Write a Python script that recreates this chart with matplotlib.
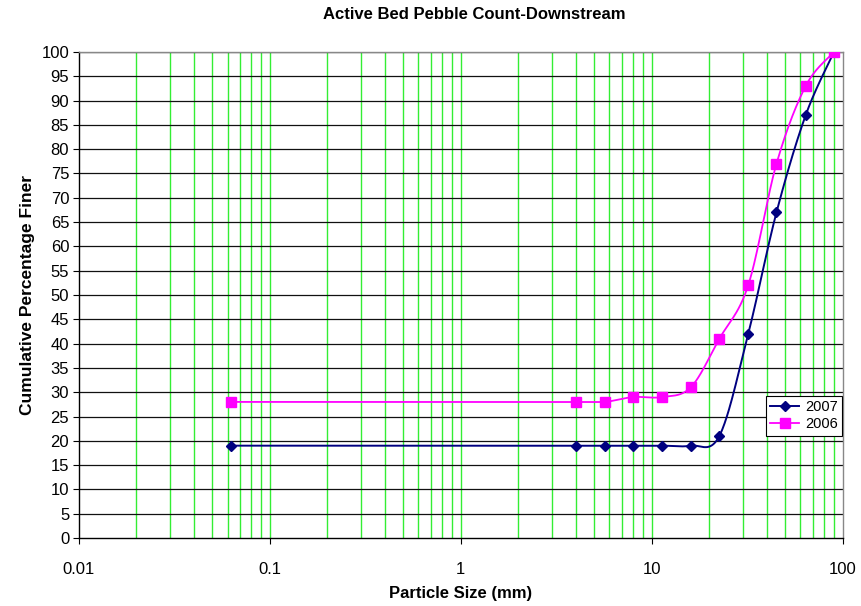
import numpy as np
import matplotlib
matplotlib.use("Agg")
import matplotlib.pyplot as plt
from matplotlib.ticker import FixedLocator, NullFormatter, FixedFormatter

plt.rcParams['font.family'] = ['Liberation Sans', 'DejaVu Sans']

# Sieve sizes (mm) and cumulative percent finer
sizes = [0.0625, 4, 5.66, 8, 11.3, 16, 22.6, 32, 45, 64, 90]
finer_2007 = [19, 19, 19, 19, 19, 19, 21, 42, 67, 87, 100]
finer_2006 = [28, 28, 28, 29, 29, 31, 41, 52, 77, 93, 100]
series_labels = ['2007', '2006']

x_ticks = [0.01, 0.1, 1, 10, 100]
x_tick_labels = ['0.01', '0.1', '1', '10', '100']
y_ticks = list(range(0, 101, 5))


def smooth_curve(xs, ys, n=40):
    """Catmull-Rom spline through the points, computed in log-x space."""
    lx = np.log10(np.asarray(xs, float))
    yy = np.asarray(ys, float)
    P = np.column_stack([lx, yy])
    P = np.vstack([P[0], P, P[-1]])
    out = []
    for i in range(1, len(P) - 2):
        p0, p1, p2, p3 = P[i - 1], P[i], P[i + 1], P[i + 2]
        c1 = p1 + (p2 - p0) / 6.0
        c2 = p2 - (p3 - p1) / 6.0
        t = np.linspace(0, 1, n)[:, None]
        seg = ((1 - t) ** 3) * p1 + 3 * ((1 - t) ** 2) * t * c1 + 3 * (1 - t) * t ** 2 * c2 + t ** 3 * p2
        out.append(seg if i == 1 else seg[1:])
    pts = np.vstack(out)
    return 10 ** pts[:, 0], pts[:, 1]


fig = plt.figure(figsize=(8.62, 6.06), dpi=100)
ax = fig.add_axes([0.0916, 0.1122, 0.886, 0.802])
ax.set_xscale('log')
ax.set_xlim(0.01, 100)
ax.set_ylim(0, 100)

# Vertical green grid at every 1..9 x 10^n
for e in range(-2, 2):
    for k in range(1, 10):
        v = k * 10.0 ** e
        if 0.01 < v < 100:
            ax.axvline(v, color='#33ee33', lw=1.0, zorder=1)
# Horizontal black grid every 5
for v in y_ticks[1:]:
    ax.axhline(v, color='#111111', lw=0.9, zorder=1)

navy = '#000080'
magenta = '#ff00ff'

sx, sy = smooth_curve(sizes, finer_2007)
ax.plot(sx, sy, color=navy, lw=1.4, zorder=3)
ax.plot(sizes, finer_2007, linestyle='none', marker='D', ms=5, color=navy, zorder=4)
sx, sy = smooth_curve(sizes, finer_2006)
ax.plot(sx, sy, color=magenta, lw=1.3, zorder=3)
ax.plot(sizes, finer_2006, linestyle='none', marker='s', ms=6.5, color=magenta, zorder=4)

# legend handles
h1, = ax.plot([], [], color=navy, lw=1.4, marker='D', ms=5)
h2, = ax.plot([], [], color=magenta, lw=1.3, marker='s', ms=6.5)
leg = ax.legend([h1, h2], series_labels, loc='upper left', bbox_to_anchor=(0.899, 0.292),
                frameon=True, fancybox=False, framealpha=1, edgecolor='black',
                fontsize=10.5, handlelength=2.0, handletextpad=0.4, borderpad=0.3,
                labelspacing=0.2, borderaxespad=0)
leg.get_frame().set_linewidth(0.8)
leg.set_zorder(5)

ax.xaxis.set_major_locator(FixedLocator(x_ticks))
ax.xaxis.set_major_formatter(FixedFormatter(x_tick_labels))
ax.xaxis.set_minor_locator(FixedLocator([]))
ax.xaxis.set_minor_formatter(NullFormatter())
ax.yaxis.set_major_locator(FixedLocator(y_ticks))

ax.tick_params(axis='both', which='major', labelsize=12, direction='out', length=4,
               width=0.8, color='black')
ax.tick_params(axis='x', pad=13.5)
ax.tick_params(axis='y', pad=3)

for side in ['top', 'right']:
    ax.spines[side].set_color('#888888')
    ax.spines[side].set_linewidth(1.0)
for side in ['left', 'bottom']:
    ax.spines[side].set_color('black')
    ax.spines[side].set_linewidth(1.0)

ax.set_xlabel('Particle Size (mm)', fontsize=12, fontweight='bold', labelpad=6)
ax.set_ylabel('Cumulative Percentage Finer', fontsize=12.5, fontweight='bold', labelpad=5)
fig.suptitle('Active Bed Pebble Count-Downstream', fontsize=12, fontweight='bold',
             x=0.55, y=0.988)

fig.savefig('out.png', dpi=100)
